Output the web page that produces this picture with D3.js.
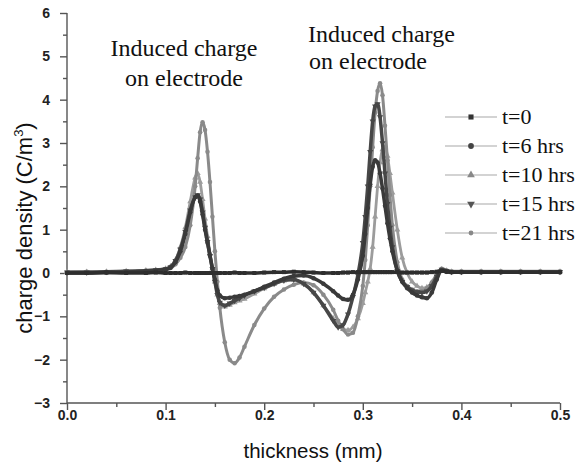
<!DOCTYPE html>
<html><head><meta charset="utf-8">
<script src="https://cdn.jsdelivr.net/npm/d3@7/dist/d3.min.js"></script>
<style>body{margin:0;background:#fff}</style>
</head><body><svg id="c" width="587" height="466"></svg>
<script>
const thickness = [0, 0.02, 0.04, 0.06, 0.08, 0.09, 0.1, 0.105, 0.11, 0.115, 0.12, 0.125, 0.13, 0.1325, 0.135, 0.1375, 0.14, 0.1425, 0.145, 0.1475, 0.15, 0.1525, 0.155, 0.16, 0.165, 0.17, 0.175, 0.18, 0.19, 0.2, 0.21, 0.22, 0.23, 0.24, 0.25, 0.26, 0.27, 0.275, 0.28, 0.285, 0.29, 0.295, 0.3, 0.3025, 0.305, 0.3075, 0.31, 0.3125, 0.315, 0.3175, 0.32, 0.3225, 0.325, 0.3275, 0.33, 0.335, 0.34, 0.345, 0.35, 0.355, 0.36, 0.365, 0.37, 0.375, 0.38, 0.385, 0.39, 0.4, 0.42, 0.44, 0.46, 0.48, 0.5];

const t0 = [0.0, 0.0, 0.01, 0.0, 0.0, 0.01, 0.0, 0.0, 0.0, 0.0, 0.01, 0.0, 0.0, 0.0, 0.0, 0.0, 0.0, 0.0, 0.0, 0.0, 0.0, 0.0, 0.0, 0.0, 0.0, 0.01, 0.0, 0.0, 0.0, 0.01, 0.02, 0.02, 0.03, 0.02, 0.01, 0.0, 0.0, 0.0, 0.01, 0.01, 0.02, 0.02, 0.02, 0.02, 0.02, 0.02, 0.02, 0.02, 0.02, 0.02, 0.02, 0.02, 0.02, 0.02, 0.02, 0.02, 0.01, 0.01, 0.01, 0.01, 0.01, 0.01, 0.02, 0.03, 0.05, 0.03, 0.02, 0.02, 0.02, 0.02, 0.02, 0.02, 0.02];

const t6 = [0.0, 0.0, 0.01, 0.02, 0.04, 0.05, 0.08, 0.12, 0.25, 0.5, 0.9, 1.4, 1.75, 1.78, 1.65, 1.35, 1.0, 0.7, 0.4, 0.1, -0.15, -0.4, -0.52, -0.58, -0.57, -0.55, -0.53, -0.5, -0.42, -0.32, -0.22, -0.13, -0.07, -0.06, -0.12, -0.25, -0.42, -0.52, -0.6, -0.62, -0.5, -0.15, 0.4, 0.9, 1.5, 2.05, 2.45, 2.6, 2.55, 2.3, 1.95, 1.55, 1.15, 0.8, 0.5, 0.05, -0.2, -0.35, -0.45, -0.52, -0.56, -0.58, -0.45, -0.15, 0.05, 0.03, 0.02, 0.02, 0.02, 0.02, 0.02, 0.02, 0.02];

const t10 = [0.02, 0.02, 0.03, 0.04, 0.06, 0.07, 0.1, 0.15, 0.3, 0.6, 1.05, 1.65, 2.2, 2.3, 2.1, 1.7, 1.25, 0.85, 0.45, 0.1, -0.2, -0.5, -0.7, -0.78, -0.74, -0.68, -0.64, -0.6, -0.48, -0.36, -0.26, -0.18, -0.16, -0.25, -0.45, -0.75, -1.05, -1.2, -1.3, -1.32, -1.25, -1.05, -0.7, -0.45, -0.2, 0.1, 0.6, 1.3, 2.0, 2.55, 2.85, 2.9, 2.7, 2.3, 1.85, 1.0, 0.35, 0.0, -0.2, -0.3, -0.35, -0.33, -0.22, -0.05, 0.08, 0.05, 0.03, 0.03, 0.03, 0.03, 0.03, 0.03, 0.03];

const t15 = [0.02, 0.02, 0.03, 0.04, 0.05, 0.07, 0.09, 0.14, 0.28, 0.55, 0.95, 1.45, 1.75, 1.8, 1.7, 1.4, 1.05, 0.72, 0.4, 0.1, -0.2, -0.5, -0.68, -0.75, -0.7, -0.64, -0.58, -0.52, -0.42, -0.34, -0.25, -0.17, -0.15, -0.25, -0.45, -0.75, -1.1, -1.25, -1.2, -0.95, -0.55, -0.05, 0.7, 1.3, 2.0, 2.8, 3.5, 3.85, 3.9, 3.6, 3.0, 2.3, 1.6, 1.05, 0.6, 0.05, -0.2, -0.32, -0.4, -0.44, -0.45, -0.42, -0.3, -0.08, 0.08, 0.05, 0.03, 0.03, 0.03, 0.03, 0.03, 0.03, 0.03];

const t21 = [0.02, 0.03, 0.03, 0.04, 0.06, 0.07, 0.09, 0.12, 0.2, 0.35, 0.6, 1.1, 2.0, 2.65, 3.25, 3.48, 3.3, 2.8, 2.1, 1.3, 0.5, -0.2, -0.8, -1.6, -2.0, -2.08, -1.95, -1.7, -1.2, -0.82, -0.55, -0.38, -0.27, -0.22, -0.28, -0.5, -0.85, -1.1, -1.3, -1.42, -1.38, -1.0, -0.3, 0.3, 1.1, 2.0, 2.9, 3.7, 4.2, 4.38, 4.1, 3.4, 2.6, 1.8, 1.1, 0.25, -0.15, -0.3, -0.38, -0.42, -0.42, -0.36, -0.22, -0.03, 0.1, 0.06, 0.04, 0.04, 0.04, 0.04, 0.04, 0.04, 0.04];

const seriesNames = ["t=0", "t=6 hrs", "t=10 hrs", "t=15 hrs", "t=21 hrs"];
const xTicks = [0.0, 0.1, 0.2, 0.3, 0.4, 0.5];
const yTicks = [-3, -2, -1, 0, 1, 2, 3, 4, 5, 6];
const annotations = [["Induced charge", "on electrode"], ["Induced charge", "on electrode"]];

const styles = [
  {data: t0,  color: "#2e2e2e", sym: d3.symbolSquare,   w: 3.5, legSym: "#333"},
  {data: t6,  color: "#3a3a3a", sym: d3.symbolCircle,   w: 3.5, legSym: "#444"},
  {data: t10, color: "#9c9c9c", sym: d3.symbolTriangle, w: 2.8, legSym: "#888"},
  {data: t15, color: "#474747", sym: d3.symbolTriangle, w: 3.5, legSym: "#555", inv: true},
  {data: t21, color: "#8a8a8a", sym: d3.symbolCircle,   w: 3.0, legSym: "#888"}
];

const svg = d3.select("#c");
const x = d3.scaleLinear().domain([0, 0.5]).range([67, 560]);
const y = d3.scaleLinear().domain([-3, 6]).range([403, 13]);

const axisColor = "#555";
const xMinor = d3.range(0.05, 0.5, 0.1);
const yMinor = d3.range(-2.5, 6, 1);
const gx = svg.append("g").attr("transform", "translate(0,403)")
  .call(d3.axisBottom(x).tickValues(xTicks).tickFormat(d3.format(".1f")).tickSize(7).tickPadding(0));
const gxm = svg.append("g").attr("transform", "translate(0,403)")
  .call(d3.axisBottom(x).tickValues(xMinor).tickFormat("").tickSize(4));
const gy = svg.append("g").attr("transform", "translate(67,0)")
  .call(d3.axisLeft(y).tickValues(yTicks).tickFormat(d3.format("d")).tickSize(7).tickPadding(10));
const gym = svg.append("g").attr("transform", "translate(67,0)")
  .call(d3.axisLeft(y).tickValues(yMinor).tickFormat("").tickSize(4));
[gx, gxm, gy, gym].forEach(g => {
  g.selectAll("path,line").attr("stroke", axisColor).attr("stroke-width", 1.4);
  g.selectAll("text").attr("fill", "#222").style("font-family", "Liberation Sans, Arial, sans-serif")
    .style("font-size", "14px").style("font-weight", "bold");
});
gxm.select("path").remove(); gym.select("path").remove();
gx.select("path").attr("d", "M67,0H560");
gy.select("path").attr("d", "M0,13V403");

const order = [2, 4, 3, 1, 0];
const line = d3.line().x((d, i) => x(thickness[i])).y(d => y(d)).curve(d3.curveMonotoneX);
order.forEach(k => {
  const s = styles[k];
  const g = svg.append("g");
  g.append("path").datum(s.data).attr("d", line).attr("fill", "none")
    .attr("stroke", s.color).attr("stroke-width", s.w).attr("stroke-linejoin", "round");
  g.selectAll("path.m").data(s.data).enter().append("path").attr("class", "m")
    .attr("d", d3.symbol().type(s.sym).size(16))
    .attr("transform", (d, i) => `translate(${x(thickness[i])},${y(d)})${s.inv ? " rotate(180)" : ""}`)
    .attr("fill", s.color);
});

const leg = svg.append("g");
seriesNames.forEach((n, i) => {
  const yy = 117 + i * 29;
  const s = styles[i];
  leg.append("line").attr("x1", 445).attr("x2", 497).attr("y1", yy).attr("y2", yy)
    .attr("stroke", "#a8a8a8").attr("stroke-width", 1.2);
  leg.append("path").attr("d", d3.symbol().type(s.sym).size(i === 4 ? 18 : 26))
    .attr("transform", `translate(471,${yy})${s.inv ? " rotate(180)" : ""}`).attr("fill", s.legSym);
  leg.append("text").attr("x", 502).attr("y", yy + 7).text(n)
    .style("font-family", "Liberation Serif, Times New Roman, serif").style("font-size", "22px").attr("fill", "#111");
});

const ann = svg.append("g").style("font-family", "Liberation Serif, Times New Roman, serif").style("font-size", "24px").attr("fill", "#111");
ann.append("text").attr("x", 184).attr("y", 56).attr("text-anchor", "middle").text(annotations[0][0]);
ann.append("text").attr("x", 184).attr("y", 86).attr("text-anchor", "middle").text(annotations[0][1]);
ann.append("text").attr("x", 308).attr("y", 42).text(annotations[1][0]);
ann.append("text").attr("x", 309).attr("y", 69).text(annotations[1][1]);

svg.append("text").attr("x", 313).attr("y", 458).attr("text-anchor", "middle")
  .style("font-family", "Liberation Sans, Arial, sans-serif").style("font-size", "20.5px").attr("fill", "#111")
  .text("thickness (mm)");
const yt = svg.append("text").attr("transform", "translate(32,228) rotate(-90)").attr("text-anchor", "middle")
  .style("font-family", "Liberation Sans, Arial, sans-serif").style("font-size", "22px").attr("fill", "#111");
yt.append("tspan").text("charge density (C/m");
yt.append("tspan").attr("dy", -9).style("font-size", "13px").text("3");
yt.append("tspan").attr("dy", 9).text(")");
</script></body></html>
